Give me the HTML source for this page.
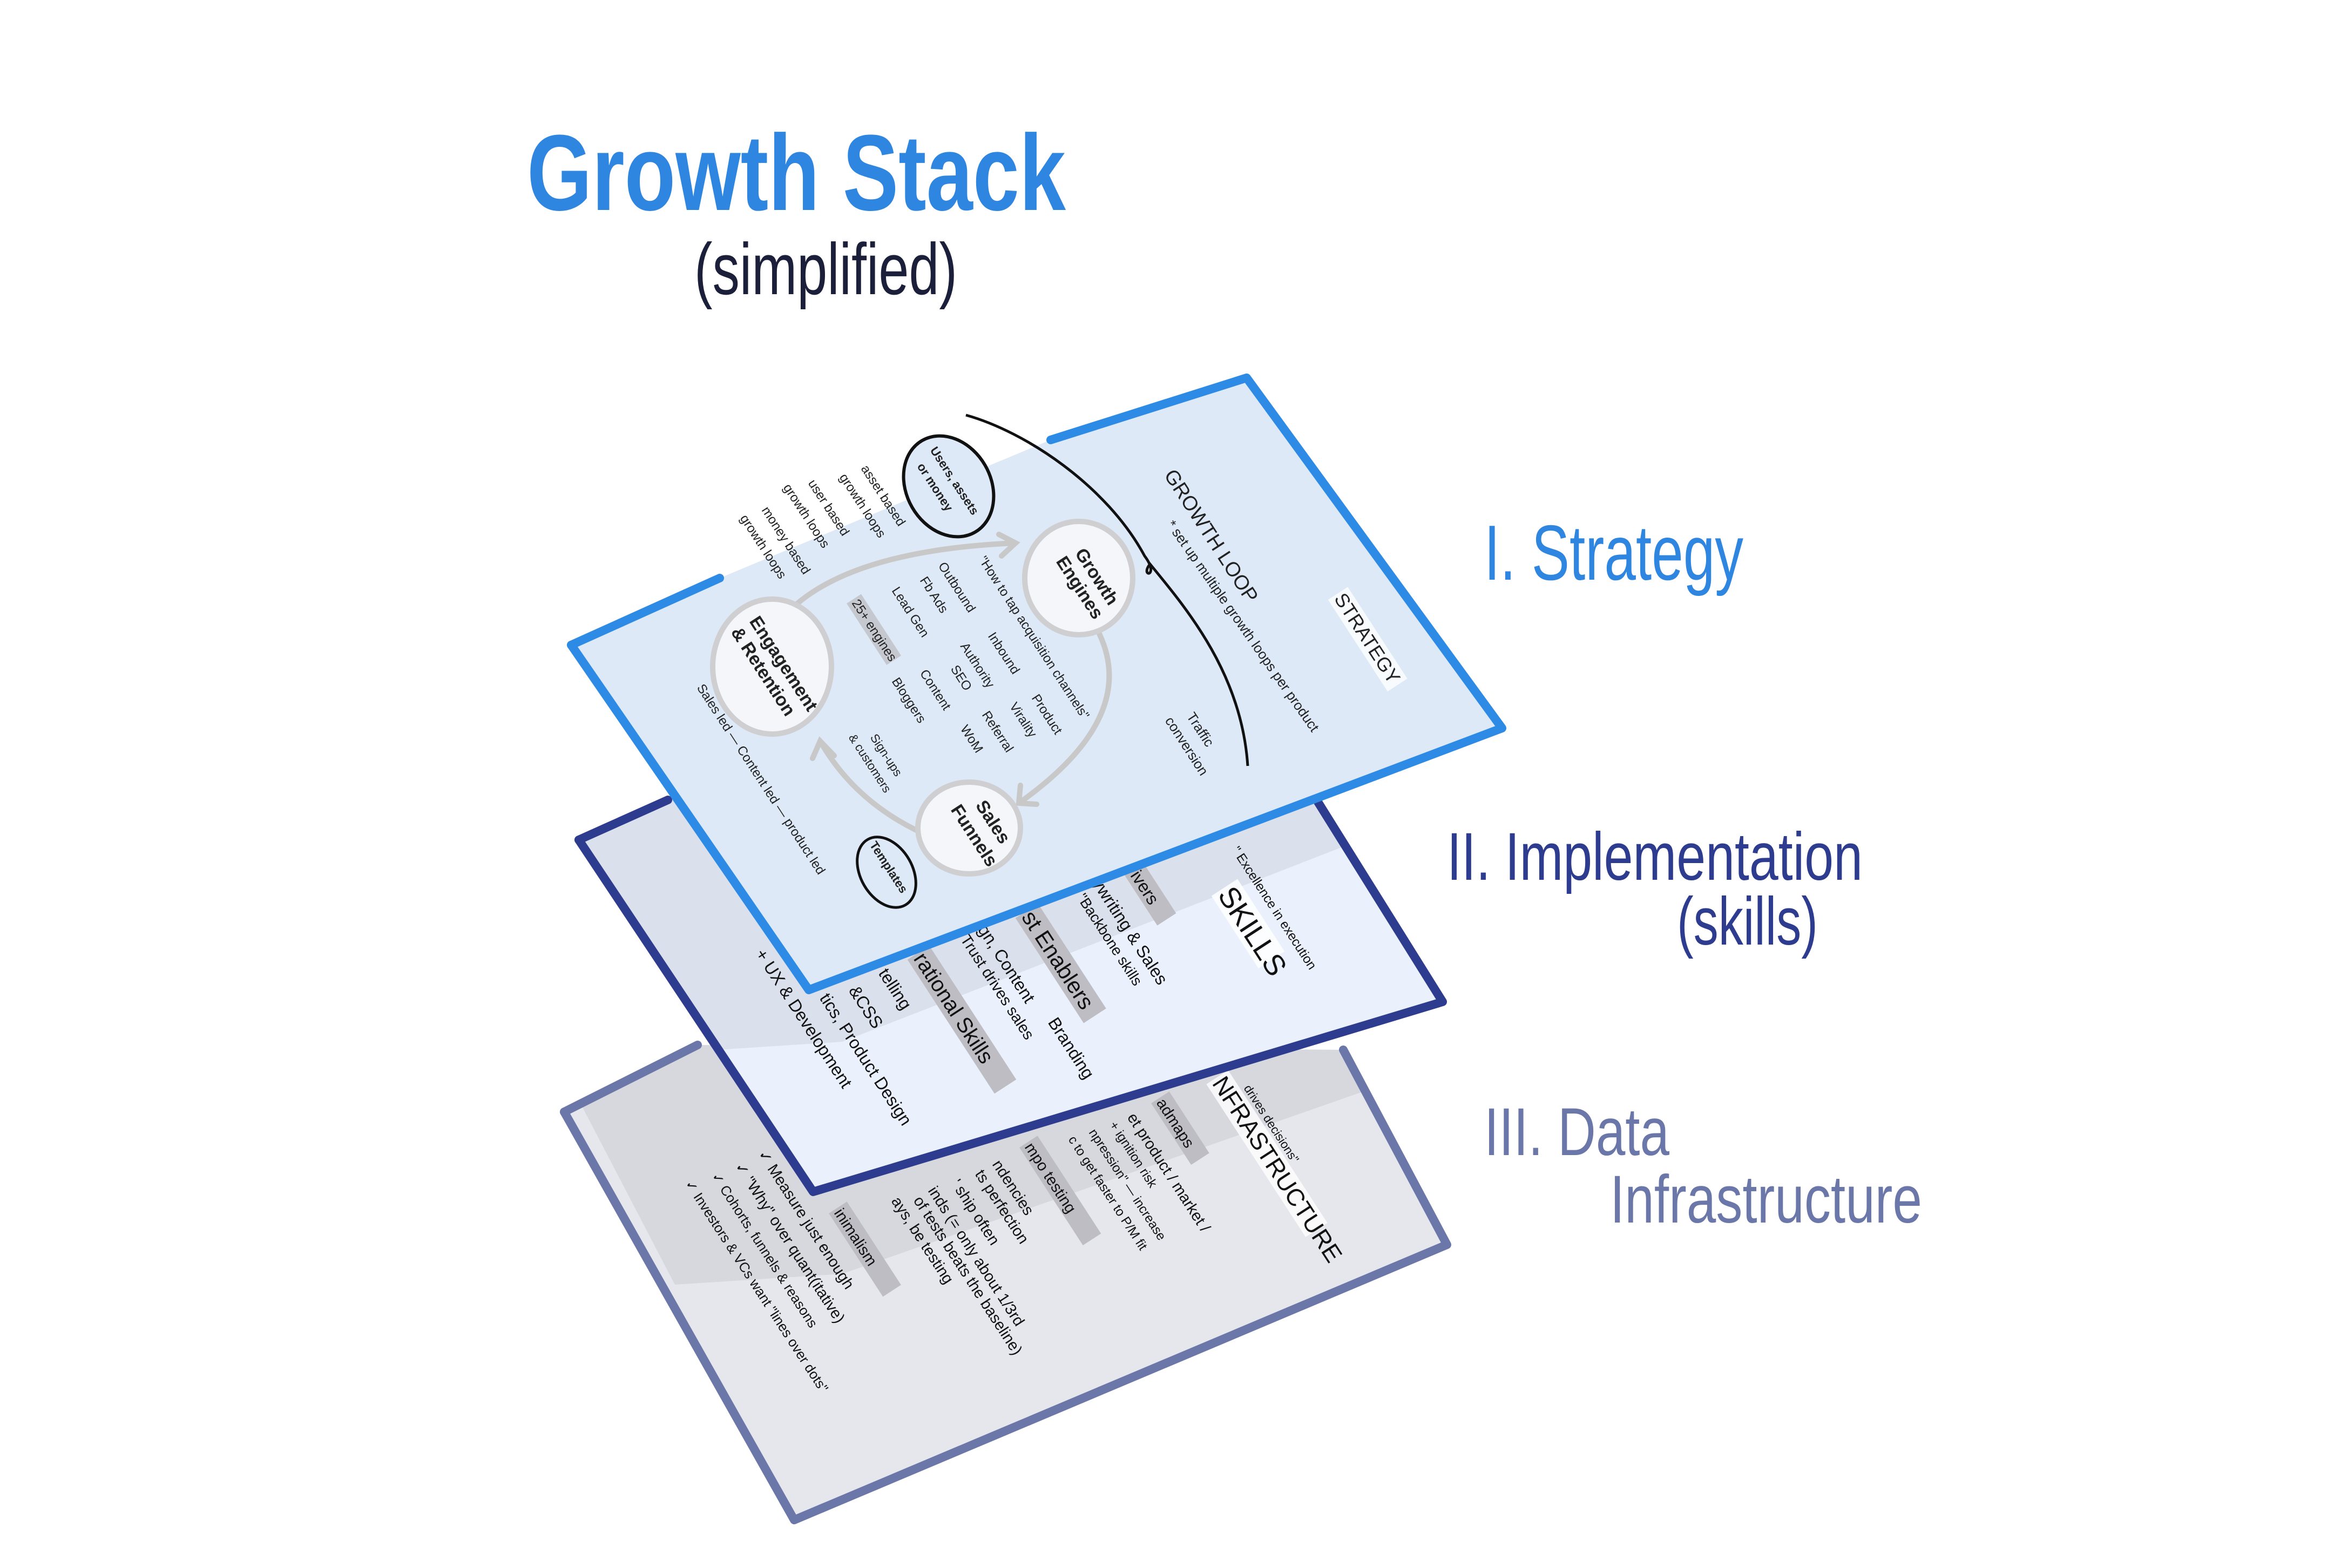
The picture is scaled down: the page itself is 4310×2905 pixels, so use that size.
<!DOCTYPE html>
<html><head><meta charset="utf-8"><style>
html,body{margin:0;padding:0;background:#fff;}
svg{display:block;}
.h{font-family:"Liberation Sans Narrow","Liberation Sans",sans-serif;}
</style></head><body>
<svg width="4310" height="2905" viewBox="0 0 4310 2905" xmlns="http://www.w3.org/2000/svg" class="h">
<defs>
<clipPath id="cb"><polygon points="1045,2060 1292,1936 2488,1945 2680,2306 1471,2816"/></clipPath>
<clipPath id="cm"><polygon points="1072,1556 1237,1482 2433,1473 2672,1856 1506,2208"/></clipPath>
</defs>
<rect width="4310" height="2905" fill="#fff"/>

<!-- Title -->
<text x="976" y="389" font-size="200" font-weight="bold" fill="#2f86e0" textLength="998" lengthAdjust="spacingAndGlyphs">Growth Stack</text>
<text x="1286" y="545" font-size="135" fill="#1c1f3a" textLength="487" lengthAdjust="spacingAndGlyphs">(simplified)</text>

<!-- Labels -->
<text x="2749" y="1074" font-size="145" fill="#2f86e0" textLength="480" lengthAdjust="spacingAndGlyphs">I. Strategy</text>
<text x="2680" y="1630" font-size="125" fill="#2e3c8f" textLength="770" lengthAdjust="spacingAndGlyphs">II. Implementation</text>
<text x="3106" y="1750" font-size="125" fill="#2e3c8f" textLength="261" lengthAdjust="spacingAndGlyphs">(skills)</text>
<text x="2749" y="2140" font-size="125" fill="#6b77a8" textLength="343" lengthAdjust="spacingAndGlyphs">III. Data</text>
<text x="2982" y="2265" font-size="125" fill="#6b77a8" textLength="578" lengthAdjust="spacingAndGlyphs">Infrastructure</text>

<!-- Bottom sheet -->
<polygon points="1045,2060 1292,1936 2488,1945 2680,2306 1471,2816" fill="#e6e7ec"/>
<g clip-path="url(#cb)"><polygon points="1000,1900 2550,1900 2560,2010 1560,2360 1250,2380" fill="#c4c6cf" opacity="0.45"/></g>
<polyline points="1045,2060 1292,1936" fill="none" stroke="#6b77a8" stroke-width="16" stroke-linecap="round"/>
<polyline points="2488,1945 2680,2306 1471,2816 1045,2060" fill="none" stroke="#6b77a8" stroke-width="16" stroke-linejoin="round" stroke-linecap="round"/>
<g font-size="36" fill="#111">
<g transform="translate(2303,2016) rotate(57) scale(0.8)"><text font-size="28">drives decisions"</text></g>
<g transform="translate(2244,2007) rotate(57) scale(0.75)"><rect x="-5" y="-52" width="450" height="64" fill="#fff" opacity="0.8"/><text font-size="60">NFRASTRUCTURE</text></g>
<g transform="translate(2141,2043) rotate(57) scale(0.8)"><rect x="-5" y="-40" width="170" height="50" fill="#bdbdc3"/><text>admaps</text></g>
<g transform="translate(2087,2070) rotate(57) scale(0.8)"><text>et product / market /</text></g>
<g transform="translate(2054,2084) rotate(57) scale(0.8)"><text font-size="30">+ ignition risk</text></g>
<g transform="translate(2016,2098) rotate(57) scale(0.8)"><text font-size="30">npression" — increase</text></g>
<g transform="translate(1978,2111) rotate(57) scale(0.8)"><text font-size="30">c to get faster to P/M fit</text></g>
<g transform="translate(1897,2125) rotate(57) scale(0.8)"><rect x="-5" y="-40" width="270" height="50" fill="#bdbdc3"/><text>mpo testing</text></g>
<g transform="translate(1837,2157) rotate(57) scale(0.8)"><text>ndencies</text></g>
<g transform="translate(1805,2175) rotate(57) scale(0.8)"><text>ts perfection</text></g>
<g transform="translate(1761,2193) rotate(57) scale(0.8)"><text>' ship often</text></g>
<g transform="translate(1718,2206) rotate(57) scale(0.8)"><text>inds (= only about 1/3rd</text></g>
<g transform="translate(1691,2224) rotate(57) scale(0.8)"><text>of tests beats the baseline)</text></g>
<g transform="translate(1650,2225) rotate(57) scale(0.8)"><text>ays, be testing</text></g>
<g transform="translate(1544,2247) rotate(57) scale(0.8)"><rect x="-5" y="-40" width="230" height="50" fill="#bdbdc3"/><text>inimalism</text></g>
<g transform="translate(1403,2138) rotate(57) scale(0.8)"><text>✓ Measure just enough</text></g>
<g transform="translate(1360,2161) rotate(57) scale(0.8)"><text>✓ "Why" over quant(itative)</text></g>
<g transform="translate(1317,2179) rotate(57) scale(0.8)"><text font-size="32">✓ Cohorts, funnels &amp; reasons</text></g>
<g transform="translate(1268,2193) rotate(57) scale(0.8)"><text font-size="32">✓ Investors &amp; VCs want "lines over dots"</text></g>
</g>

<!-- Middle sheet -->
<polygon points="1072,1556 1237,1482 2433,1473 2672,1856 1506,2208" fill="#eaf1fc"/>
<g clip-path="url(#cm)"><polygon points="1000,1400 2500,1400 2510,1560 1560,1930 1250,1950" fill="#c4c8d4" opacity="0.4"/></g>
<polyline points="1072,1556 1237,1482" fill="none" stroke="#2e3c8f" stroke-width="16" stroke-linecap="round"/>
<polyline points="2433,1473 2672,1856 1506,2208 1072,1556" fill="none" stroke="#2e3c8f" stroke-width="16" stroke-linejoin="round" stroke-linecap="round"/>
<g font-size="40" fill="#111">
<g transform="translate(2281,1575) rotate(57) scale(0.8)"><text font-size="30">" Excellence in execution</text></g>
<g transform="translate(2254,1658) rotate(57) scale(0.8)"><rect x="-5" y="-60" width="200" height="72" fill="#fff" opacity="0.85"/><text font-size="68">SKILLS</text></g>
<g transform="translate(2087,1613) rotate(57) scale(0.8)"><rect x="-5" y="-42" width="150" height="52" fill="#bdbdc3"/><text>rivers</text></g>
<g transform="translate(2022,1636) rotate(57) scale(0.8)"><text>ywriting &amp; Sales</text></g>
<g transform="translate(1994,1663) rotate(57) scale(0.8)"><text font-size="34">"Backbone skills</text></g>
<g transform="translate(1891,1699) rotate(57) scale(0.8)"><rect x="-5" y="-50" width="290" height="62" fill="#bdbdc3"/><text font-size="52">st Enablers</text></g>
<g transform="translate(1810,1722) rotate(57) scale(0.8)"><text>gn, Content</text></g>
<g transform="translate(1940,1894) rotate(57) scale(0.8)"><text>Branding</text></g>
<g transform="translate(1778,1740) rotate(57) scale(0.8)"><text font-size="36">Trust drives sales</text></g>
<g transform="translate(1691,1776) rotate(57) scale(0.8)"><rect x="-5" y="-48" width="370" height="60" fill="#bdbdc3"/><text font-size="50">rational Skills</text></g>
<g transform="translate(1626,1803) rotate(57) scale(0.8)"><text>telling</text></g>
<g transform="translate(1571,1835) rotate(57) scale(0.8)"><text>&amp;CSS</text></g>
<g transform="translate(1517,1849) rotate(57) scale(0.8)"><text>tics, Product Design</text></g>
<g transform="translate(1398,1767) rotate(57) scale(0.8)"><text>+ UX &amp; Development</text></g>
</g>

<!-- Top sheet -->
<polygon points="1058,1195 1333,1071 1946,815 2309,700 2782,1349 1498,1834" fill="#dde9f7"/>
<polyline points="1058,1195 1333,1071" fill="none" stroke="#2d8be6" stroke-width="16" stroke-linecap="round"/>
<polyline points="1946,815 2309,700 2782,1349 1498,1834 1058,1195" fill="none" stroke="#2d8be6" stroke-width="16" stroke-linejoin="round" stroke-linecap="round"/>

<g fill="none" stroke="#c8c8c8" stroke-width="10" stroke-linecap="round">
<path d="M1450,1144 Q1560,1020 1881,1006"/>
<path d="M1850,990 L1881,1006 L1855,1030"/>
<path d="M2036,1174 Q2110,1330 1887,1488"/>
<path d="M1890,1455 L1887,1488 L1920,1490"/>
<path d="M1697,1538 Q1580,1480 1519,1373"/>
<path d="M1505,1405 L1519,1373 L1545,1400"/>
</g>
<path d="M1789,769 C1900,800 2050,900 2120,1030 C2150,1070 2110,1070 2130,1045 C2200,1130 2300,1250 2311,1419" fill="none" stroke="#111" stroke-width="5"/>

<ellipse cx="1998" cy="1071" rx="100" ry="105" fill="#f4f6f9" stroke="#cfcfd2" stroke-width="10"/>
<ellipse cx="1430" cy="1235" rx="110" ry="125" fill="#f4f6f9" stroke="#cfcfd2" stroke-width="10"/>
<ellipse cx="1795" cy="1534" rx="95" ry="85" fill="#f4f6f9" stroke="#cfcfd2" stroke-width="10"/>
<ellipse cx="1757" cy="901" rx="78" ry="98" transform="rotate(-30 1757 901)" fill="#dde9f7" stroke="#111" stroke-width="6"/>
<ellipse cx="1642" cy="1616" rx="48" ry="70" transform="rotate(-30 1642 1616)" fill="#dde9f7" stroke="#111" stroke-width="5"/>

<g font-size="30" fill="#222">
<g transform="translate(2155,880) rotate(57) scale(0.75)"><text font-size="50">GROWTH LOOP</text></g>
<g transform="translate(2160,972) rotate(55) scale(0.8)"><text font-size="32">* set up multiple growth loops per product</text></g>
<g transform="translate(2470,1109) rotate(57) scale(0.75)"><rect x="-5" y="-45" width="270" height="58" fill="#fff" opacity="0.8"/><text font-size="48">STRATEGY</text></g>
<g transform="translate(2197,1327) rotate(57) scale(0.8)"><text font-size="32">Traffic</text></g>
<g transform="translate(2157,1335) rotate(57) scale(0.8)"><text font-size="32">conversion</text></g>
<g transform="translate(1722,834) rotate(57) scale(0.75)"><text font-size="30" font-weight="bold">Users, assets</text></g>
<g transform="translate(1698,864) rotate(57) scale(0.75)"><text font-size="30" font-weight="bold">or money</text></g>
<g transform="translate(1594,868) rotate(57) scale(0.8)"><text>asset based</text></g>
<g transform="translate(1554,884) rotate(57) scale(0.8)"><text>growth loops</text></g>
<g transform="translate(1496,895) rotate(57) scale(0.8)"><text>user based</text></g>
<g transform="translate(1450,903) rotate(57) scale(0.8)"><text>growth loops</text></g>
<g transform="translate(1410,945) rotate(57) scale(0.8)"><text>money based</text></g>
<g transform="translate(1370,960) rotate(57) scale(0.8)"><text>growth loops</text></g>
<g transform="translate(1990,1025) rotate(57) scale(0.8)"><text font-size="42" font-weight="bold">Growth</text></g>
<g transform="translate(1955,1040) rotate(57) scale(0.8)"><text font-size="42" font-weight="bold">Engines</text></g>
<g transform="translate(1812,1037) rotate(57) scale(0.8)"><text>"How to tap acquisition channels"</text></g>
<g transform="translate(1737,1048) rotate(57) scale(0.8)"><text>Outbound</text></g>
<g transform="translate(1703,1075) rotate(57) scale(0.8)"><text>Fb Ads</text></g>
<g transform="translate(1651,1094) rotate(57) scale(0.8)"><text>Lead Gen</text></g>
<g transform="translate(1577,1117) rotate(57) scale(0.8)"><rect x="-5" y="-30" width="170" height="40" fill="#c5c9cf"/><text>25+ engines</text></g>
<g transform="translate(1829,1178) rotate(57) scale(0.8)"><text>Inbound</text></g>
<g transform="translate(1778,1197) rotate(57) scale(0.8)"><text>Authority</text></g>
<g transform="translate(1760,1239) rotate(57) scale(0.8)"><text>SEO</text></g>
<g transform="translate(1703,1247) rotate(57) scale(0.8)"><text>Content</text></g>
<g transform="translate(1651,1262) rotate(57) scale(0.8)"><text>Bloggers</text></g>
<g transform="translate(1910,1293) rotate(57) scale(0.8)"><text>Product</text></g>
<g transform="translate(1869,1308) rotate(57) scale(0.8)"><text>Virality</text></g>
<g transform="translate(1818,1324) rotate(57) scale(0.8)"><text>Referral</text></g>
<g transform="translate(1778,1350) rotate(57) scale(0.8)"><text>WoM</text></g>
<g transform="translate(1387,1151) rotate(57) scale(0.8)"><text font-size="42" font-weight="bold">Engagement</text></g>
<g transform="translate(1353,1171) rotate(57) scale(0.8)"><text font-size="42" font-weight="bold">&amp; Retention</text></g>
<g transform="translate(1611,1366) rotate(57) scale(0.8)"><text font-size="28">Sign-ups</text></g>
<g transform="translate(1571,1366) rotate(57) scale(0.8)"><text font-size="28">&amp; customers</text></g>
<g transform="translate(1290,1274) rotate(57) scale(0.8)"><text>Sales led — Content led — product led</text></g>
<g transform="translate(1806,1492) rotate(57) scale(0.8)"><text font-size="42" font-weight="bold">Sales</text></g>
<g transform="translate(1760,1500) rotate(57) scale(0.8)"><text font-size="42" font-weight="bold">Funnels</text></g>
<g transform="translate(1610,1565) rotate(57) scale(0.8)"><text font-size="28" font-weight="bold">Templates</text></g>
</g>
</svg>
</body></html>
